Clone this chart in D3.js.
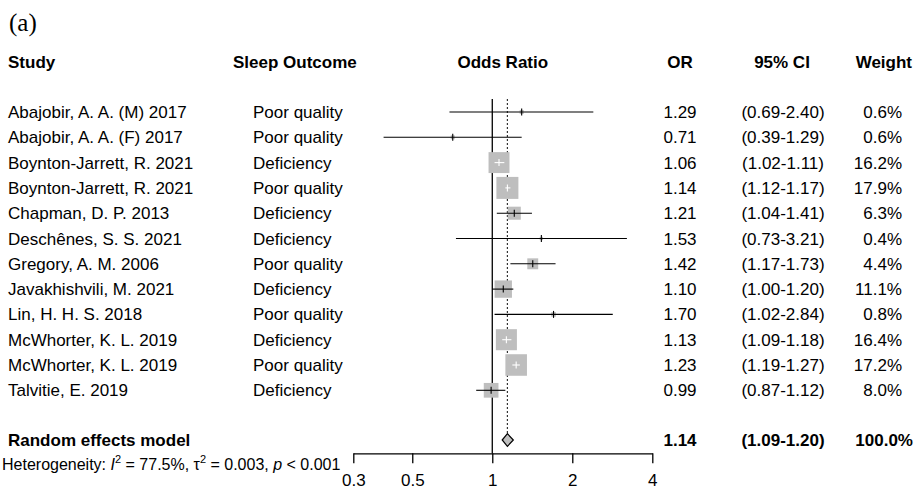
<!DOCTYPE html>
<html>
<head>
<meta charset="utf-8">
<script src="https://cdn.jsdelivr.net/npm/d3@7"></script>
<style>
  body { margin: 0; background: #fff; }
  svg text { font-family: "Liberation Sans", Arial, sans-serif; }
</style>
</head>
<body>
<div id="chart"></div>
<script>
const studies = [
  "Abajobir, A. A. (M) 2017", "Abajobir, A. A. (F) 2017", "Boynton-Jarrett, R. 2021",
  "Boynton-Jarrett, R. 2021", "Chapman, D. P. 2013", "Deschênes, S. S. 2021",
  "Gregory, A. M. 2006", "Javakhishvili, M. 2021", "Lin, H. H. S. 2018",
  "McWhorter, K. L. 2019", "McWhorter, K. L. 2019", "Talvitie, E. 2019"
];
const outcomes = [
  "Poor quality", "Poor quality", "Deficiency", "Poor quality", "Deficiency", "Deficiency",
  "Poor quality", "Deficiency", "Poor quality", "Deficiency", "Poor quality", "Deficiency"
];
const or = [1.29, 0.71, 1.06, 1.14, 1.21, 1.53, 1.42, 1.10, 1.70, 1.13, 1.23, 0.99];
const lower = [0.69, 0.39, 1.02, 1.12, 1.04, 0.73, 1.17, 1.00, 1.02, 1.09, 1.19, 0.87];
const upper = [2.40, 1.29, 1.11, 1.17, 1.41, 3.21, 1.73, 1.20, 2.84, 1.18, 1.27, 1.12];
const weight = [0.6, 0.6, 16.2, 17.9, 6.3, 0.4, 4.4, 11.1, 0.8, 16.4, 17.2, 8.0];
const pooled = {or: 1.14, lower: 1.09, upper: 1.20, weight: 100.0};
const tickValues = [0.3, 0.5, 1, 2, 4];

const width = 916, height = 491;
const svg = d3.select("#chart").append("svg")
  .attr("width", width).attr("height", height);

const x = d3.scaleLog().domain([0.3, 4]).range([353.3, 652.3]);
const y = d3.scalePoint().domain(d3.range(studies.length)).range([112, 390.3]);
const yPooled = 440;
const axisY = 453.3;
const boxSide = w => 5.2 * Math.sqrt(w);
const fmt2 = d3.format(".2f");
const fmt1 = d3.format(".1f");

const rows = studies.map((s, i) => ({
  study: s, outcome: outcomes[i], or: or[i], lower: lower[i], upper: upper[i], weight: weight[i]
}));

// panel label
svg.append("text").attr("x", 9).attr("y", 31)
  .style("font-family", "'Liberation Serif', 'Times New Roman', serif")
  .style("font-size", "25px").text("(a)");

// headers
const header = svg.append("g").style("font-size", "17px").style("font-weight", "bold");
header.append("text").attr("x", 8).attr("y", 68).text("Study");
header.append("text").attr("x", 233).attr("y", 68).text("Sleep Outcome");
header.append("text").attr("x", (x.range()[0] + x.range()[1]) / 2).attr("y", 68)
  .attr("text-anchor", "middle").text("Odds Ratio");
header.append("text").attr("x", 680).attr("y", 68).attr("text-anchor", "middle").text("OR");
header.append("text").attr("x", 782).attr("y", 68).attr("text-anchor", "middle").text("95% CI");
header.append("text").attr("x", 912).attr("y", 68).attr("text-anchor", "end").text("Weight");

// reference lines
svg.append("line")
  .attr("x1", x(1)).attr("x2", x(1)).attr("y1", 99).attr("y2", axisY)
  .attr("stroke", "#000").attr("stroke-width", 1.3);
svg.append("line")
  .attr("x1", x(pooled.or)).attr("x2", x(pooled.or)).attr("y1", 99).attr("y2", yPooled - 6.3)
  .attr("stroke", "#333").attr("stroke-width", 1.2).attr("stroke-dasharray", "2,2");

// study rows
const row = svg.selectAll("g.row").data(rows).enter().append("g").attr("class", "row");

row.append("text").attr("x", 8).attr("y", (d, i) => y(i) + 6)
  .style("font-size", "17px").text(d => d.study);
row.append("text").attr("x", 253).attr("y", (d, i) => y(i) + 6)
  .style("font-size", "17px").text(d => d.outcome);
row.append("text").attr("x", 680).attr("y", (d, i) => y(i) + 6)
  .attr("text-anchor", "middle").style("font-size", "17px").text(d => fmt2(d.or));
row.append("text").attr("x", 783).attr("y", (d, i) => y(i) + 6)
  .attr("text-anchor", "middle").style("font-size", "17px")
  .text(d => `(${fmt2(d.lower)}-${fmt2(d.upper)})`);
row.append("text").attr("x", 902).attr("y", (d, i) => y(i) + 6)
  .attr("text-anchor", "end").style("font-size", "17px").text(d => fmt1(d.weight) + "%");

row.append("rect")
  .attr("x", d => x(d.or) - boxSide(d.weight) / 2)
  .attr("y", (d, i) => y(i) - boxSide(d.weight) / 2)
  .attr("width", d => boxSide(d.weight))
  .attr("height", d => boxSide(d.weight))
  .attr("fill", "#bebebe");

const inside = d => x(d.lower) >= x(d.or) - boxSide(d.weight) / 2 &&
                    x(d.upper) <= x(d.or) + boxSide(d.weight) / 2;

row.append("line")
  .attr("x1", d => x(d.lower)).attr("x2", d => x(d.upper))
  .attr("y1", (d, i) => y(i)).attr("y2", (d, i) => y(i))
  .attr("stroke", d => inside(d) ? "#fff" : "#000").attr("stroke-width", 1.1);
row.append("line")
  .attr("x1", d => x(d.or)).attr("x2", d => x(d.or))
  .attr("y1", (d, i) => y(i) - 3.5).attr("y2", (d, i) => y(i) + 3.5)
  .attr("stroke", d => inside(d) ? "#fff" : "#000").attr("stroke-width", 1.1);

// pooled row
svg.append("text").attr("x", 8).attr("y", yPooled + 6)
  .style("font-size", "17px").style("font-weight", "bold").text("Random effects model");
svg.append("text").attr("x", 680).attr("y", yPooled + 6).attr("text-anchor", "middle")
  .style("font-size", "17px").style("font-weight", "bold").text(fmt2(pooled.or));
svg.append("text").attr("x", 783).attr("y", yPooled + 6).attr("text-anchor", "middle")
  .style("font-size", "17px").style("font-weight", "bold")
  .text(`(${fmt2(pooled.lower)}-${fmt2(pooled.upper)})`);
svg.append("text").attr("x", 913).attr("y", yPooled + 6).attr("text-anchor", "end")
  .style("font-size", "17px").style("font-weight", "bold").text(fmt1(pooled.weight) + "%");

svg.append("polygon")
  .attr("points", [
    [x(pooled.lower), yPooled], [x(pooled.or), yPooled - 6.3],
    [x(pooled.upper), yPooled], [x(pooled.or), yPooled + 6.3]
  ].map(p => p.join(",")).join(" "))
  .attr("fill", "#bebebe").attr("stroke", "#000").attr("stroke-width", 1.2);

// heterogeneity
const het = svg.append("text").attr("x", 2).attr("y", 470).style("font-size", "16px");
het.append("tspan").text("Heterogeneity: ");
het.append("tspan").style("font-style", "italic").text("I");
het.append("tspan").attr("dy", -7).style("font-size", "11px").text("2");
het.append("tspan").attr("dy", 7).text(" = 77.5%, \u03c4");
het.append("tspan").attr("dy", -7).style("font-size", "11px").text("2");
het.append("tspan").attr("dy", 7).text(" = 0.003, ");
het.append("tspan").style("font-style", "italic").text("p");
het.append("tspan").text(" < 0.001");

// axis
const axis = svg.append("g").attr("transform", `translate(0,${axisY})`)
  .call(d3.axisBottom(x).tickValues(tickValues).tickFormat(d => String(d))
    .tickSize(10).tickSizeOuter(0).tickPadding(11));
axis.select(".domain").attr("stroke-width", 1.3);
axis.selectAll(".tick line").attr("stroke-width", 1.3);
axis.selectAll("text").style("font-size", "17px")
  .style("font-family", "'Liberation Sans', Arial, sans-serif");
</script>
</body>
</html>
